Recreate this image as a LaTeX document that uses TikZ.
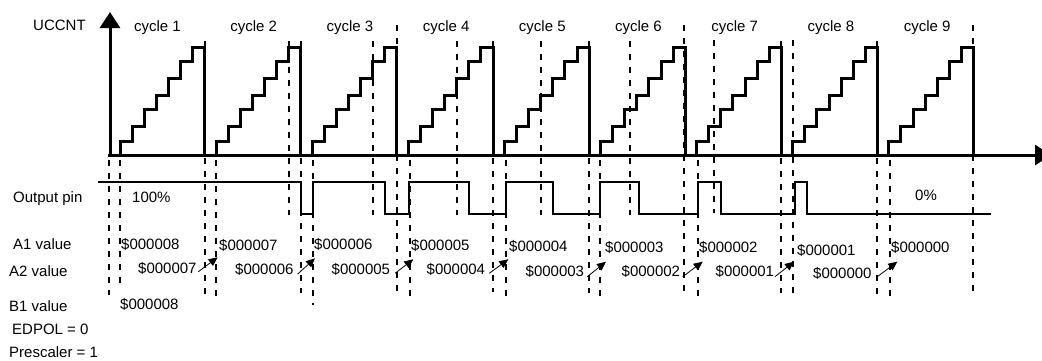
\documentclass[tikz,border=0pt]{standalone}
\usepackage{fontspec}
\setmainfont{Liberation Sans}
\usetikzlibrary{arrows.meta}
\begin{document}
\begin{tikzpicture}[x=1pt,y=-1pt,
  lbl/.style={inner sep=0pt, anchor=base west, font=\fontsize{15}{18}\selectfont},
  cyc/.style={inner sep=0pt, anchor=base, font=\fontsize{15}{18}\selectfont},
  ramp/.style={line width=3pt},
  dl/.style={line width=2pt, dash pattern=on 6pt off 7pt},
  pin/.style={line width=2.2pt},
  axis/.style={line width=3pt, -{Triangle[length=16pt,width=20pt]}},
  upd/.style={line width=0.8pt, -{Triangle[length=9pt,width=8pt]}}]
\useasboundingbox (0,0) rectangle (1042,360);

% dashed time markers
\foreach \x/\a/\b in {109/160/295, 120/160/286, 216/160/298, 313/160/305, 410/160/302,
  506/160/302, 600/160/298, 698/160/302, 890/160/300,
  205/41/295, 301/41/293, 397/25/292, 493/41/292, 589/41/293, 684/25/293,
  781/41/293, 877/41/297, 973/25/297,
  289/41/215, 373/41/215, 457/41/215, 541/41/215, 630/41/215, 714/40/213, 793/40/298}
  \draw[dl] (\x,\a) -- (\x,\b);

% counter ramps
\foreach \k in {0,...,8}{
  \pgfmathsetmacro\s{120+96.1*\k}
  \draw[ramp] (\s,157) |- (\s+12.1,141) |- (\s+24.2,126) |- (\s+36.3,109)
    |- (\s+48.4,95) |- (\s+60.5,78) |- (\s+72.6,61) |- (\s+84.7,47) -- (\s+84.7,155);
}

% axes
\draw[axis] (110,156.5) -- (110,12);
\draw[axis] (108,155) -- (1051,155);

% output pin waveform
\draw[pin] (98,182) -- (301,182) -- (301,214) -- (313,214) -- (313,182)
  -- (385,182) -- (385,214) -- (409,214) -- (409,182)
  -- (469,182) -- (469,214) -- (506,214) -- (506,182)
  -- (553,182) -- (553,214) -- (600,214) -- (600,182)
  -- (639,182) -- (639,214) -- (698,214) -- (698,182)
  -- (721,182) -- (721,214) -- (795,214) -- (795,182)
  -- (807,182) -- (807,214) -- (991,214);

% labels
\node[lbl] (uccnt) at (33,30) {UCCNT};
\foreach \k in {1,...,9}{
  \pgfmathsetmacro\cx{157.5+96.2*(\k-1)}
  \node[cyc] (cyc\k) at (\cx,31.5) {cycle \k};
}
\node[lbl] (outpin) at (13,202) {Output pin};
\node[lbl] (p100) at (132,202) {100\%};
\node[lbl] (p0) at (915,200) {0\%};
\node[lbl] (a1lab) at (13,249) {A1 value};
\node[lbl] (a2lab) at (9,276) {A2 value};
\node[lbl] (b1lab) at (9,311.5) {B1 value};
\node[lbl] (edpol) at (12,334) {EDPOL = 0};
\node[lbl] (presc) at (9,357) {Prescaler = 1};

% A1 values
\node[lbl] (a1v8) at (121,249) {\$000008};
\node[lbl] (a1v7) at (219,250) {\$000007};
\node[lbl] (a1v6) at (314,249.5) {\$000006};
\node[lbl] (a1v5) at (411,250) {\$000005};
\node[lbl] (a1v4) at (509,251.5) {\$000004};
\node[lbl] (a1v3) at (605,252) {\$000003};
\node[lbl] (a1v2) at (699,252.5) {\$000002};
\node[lbl] (a1v1) at (797,255) {\$000001};
\node[lbl] (a1v0) at (891,252.5) {\$000000};

% A2 values
\node[lbl] (a2v7) at (138,273.5) {\$000007};
\node[lbl] (a2v6) at (235,274) {\$000006};
\node[lbl] (a2v5) at (331.5,274) {\$000005};
\node[lbl] (a2v4) at (426.5,274) {\$000004};
\node[lbl] (a2v3) at (525.5,276) {\$000003};
\node[lbl] (a2v2) at (621.5,276.5) {\$000002};
\node[lbl] (a2v1) at (715.5,276.5) {\$000001};
\node[lbl] (a2v0) at (813,278) {\$000000};

% B1 value
\node[lbl] (b1v8) at (120,309) {\$000008};

% update arrows A2 -> A1
\foreach \i/\tx/\ty/\hx/\hy in {1/198.3/271.7/217.7/257.3, 2/297.7/274/315/258.3,
  3/395/273.3/413.3/259.3, 4/489.3/273.3/508.3/259.3, 5/587.3/276.7/606/261.7,
  6/682.7/276.7/702.7/261.7, 7/775/276.7/794/261.7, 8/877.3/276.7/897.3/261.7}{
  \coordinate (t\i) at (\tx,\ty);
  \coordinate (h\i) at (\hx,\hy);
  \draw[upd] (t\i) -- (h\i);
}
\end{tikzpicture}
\end{document}
